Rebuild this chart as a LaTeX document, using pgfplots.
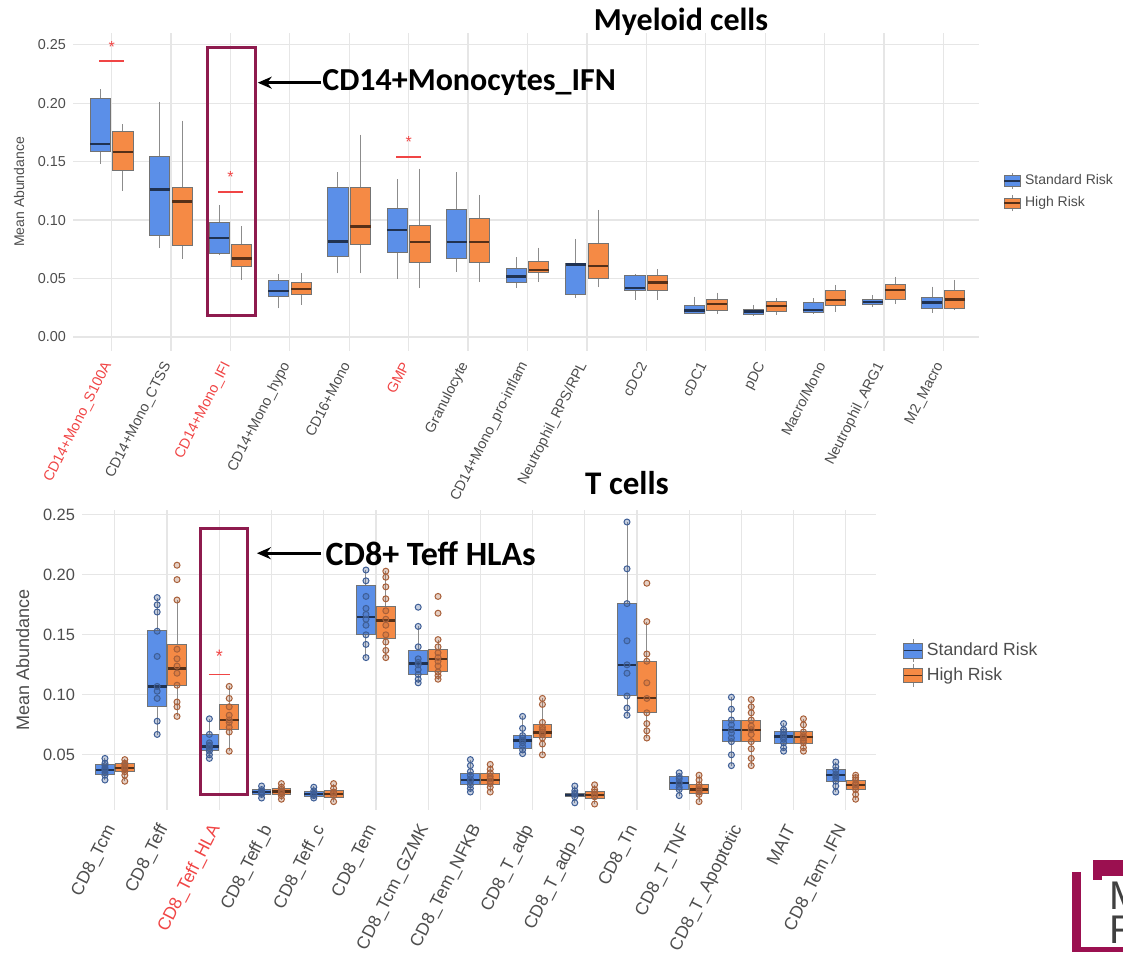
\documentclass[border=0pt]{standalone}
\usepackage{pgfplots}
\pgfplotsset{compat=1.18}
\usepgfplotslibrary{statistics}
\usetikzlibrary{arrows.meta}
\usepackage{fontspec}
\setmainfont{Liberation Sans}
\newfontfamily\carlito{Carlito}
\definecolor{sblue}{HTML}{5B8FE8}
\definecolor{horange}{HTML}{F58A45}
\definecolor{gridc}{HTML}{E6E6E6}
\definecolor{txtg}{HTML}{4D4D4D}
\definecolor{maroon}{HTML}{8E1B4E}
\definecolor{logoc}{HTML}{9B1050}
\definecolor{sigred}{HTML}{F04545}
\definecolor{bpt}{HTML}{3E5E96}
\definecolor{opt}{HTML}{A8603A}

% box: position, lower whisker, lower quartile, median, upper quartile, upper whisker, fill
\newcommand{\bx}[7]{\addplot[forget plot, boxplot prepared={draw direction=y, draw position=#1, lower whisker=#2, lower quartile=#3, median=#4, upper quartile=#5, upper whisker=#6, every median/.append style={draw=#7!35!black}}, draw=black!55, fill=#7, line width=0.5pt] coordinates {};}
% sample points: position, values, colour
\newcommand{\pts}[3]{\addplot[forget plot, only marks, mark=*, mark size=1.5pt, mark options={draw=#3, fill=#3, fill opacity=0.3, line width=0.5pt}] table[header=false, x expr=#1, y index=0, row sep=\\]{#2};}

\pgfplotsset{
  ggmin/.style={
    scale only axis, anchor=south west, clip=false,
    axis line style={draw=none}, tick style={draw=none},
    grid=major, major grid style={gridc, line width=0.6pt},
    xtick={1,...,15},
    /pgf/number format/assume math mode=true,
    yticklabel style={/pgf/number format/.cd, fixed, fixed zerofill, precision=2, /tikz/.cd, text=txtg},
    xticklabel style={rotate=63, anchor=east, text=txtg},
    ylabel style={text=txtg},
    legend cell align=left,
    boxplot/draw direction=y,
    boxplot/whisker extend=0,
    boxplot/every median/.style={line width=1.2pt},
    boxplot/every whisker/.style={draw=black!45},
  }
}

\begin{document}
\begin{tikzpicture}
\path[use as bounding box] (0pt,0pt) rectangle (561.5pt,-476pt);

% ---------------- Myeloid cells ----------------
\begin{axis}[ggmin,
  at={(36.5pt,-175.5pt)}, width=453pt, height=159pt,
  xmin=0.35, xmax=15.6, ymin=-0.012, ymax=0.260,
  ytick={0,0.05,0.1,0.15,0.2,0.25},
  yticklabel style={font=\fontsize{7.2}{8}\selectfont},
  xticklabel style={font=\fontsize{7.2}{8}\selectfont},
  xticklabel shift=3pt,
  xticklabels={\textcolor{sigred}{CD14+Mono\_S100A}, CD14+Mono\_CTSS, \textcolor{sigred}{CD14+Mono\_IFI}, CD14+Mono\_hypo, CD16+Mono, \textcolor{sigred}{GMP}, Granulocyte, CD14+Mono\_pro-inflam, Neutrophil\_RPS/RPL, cDC2, cDC1, pDC, Macro/Mono, Neutrophil\_ARG1, M2\_Macro},
  ylabel={Mean Abundance}, ylabel style={font=\fontsize{7}{8}\selectfont},
  boxplot/box extend=0.34,
  legend style={at={(1.02,0.5)}, anchor=west, draw=none, fill=none, font=\fontsize{7}{8.4}\selectfont, text=txtg, row sep=0.5pt},
]
\addlegendimage{legend image code/.code={
  \draw[black!45, line width=0.4pt] (0.14cm,-0.14cm)--(0.14cm,0.14cm);
  \draw[draw=black!55, fill=sblue, line width=0.4pt] (0cm,-0.09cm) rectangle (0.28cm,0.09cm);
  \draw[sblue!35!black, line width=0.8pt] (0cm,0cm)--(0.28cm,0cm);}}
\addlegendentry{Standard Risk}
\addlegendimage{legend image code/.code={
  \draw[black!45, line width=0.4pt] (0.14cm,-0.14cm)--(0.14cm,0.14cm);
  \draw[draw=black!55, fill=horange, line width=0.4pt] (0cm,-0.09cm) rectangle (0.28cm,0.09cm);
  \draw[horange!35!black, line width=0.8pt] (0cm,0cm)--(0.28cm,0cm);}}
\addlegendentry{High Risk}

\bx{0.81}{0.148}{0.159}{0.165}{0.204}{0.212}{sblue}
\bx{1.19}{0.125}{0.142}{0.158}{0.176}{0.182}{horange}
\bx{1.81}{0.076}{0.087}{0.126}{0.154}{0.201}{sblue}
\bx{2.19}{0.067}{0.078}{0.116}{0.128}{0.185}{horange}
\bx{2.81}{0.070}{0.071}{0.0845}{0.098}{0.113}{sblue}
\bx{3.19}{0.049}{0.060}{0.067}{0.079}{0.0945}{horange}
\bx{3.81}{0.0245}{0.0345}{0.0394}{0.048}{0.0537}{sblue}
\bx{4.19}{0.0274}{0.0365}{0.0408}{0.0465}{0.0545}{horange}
\bx{4.81}{0.0545}{0.0688}{0.0816}{0.128}{0.141}{sblue}
\bx{5.19}{0.0545}{0.079}{0.0945}{0.128}{0.173}{horange}
\bx{5.81}{0.050}{0.072}{0.0916}{0.1096}{0.135}{sblue}
\bx{6.19}{0.0417}{0.0636}{0.081}{0.0953}{0.144}{horange}
\bx{6.81}{0.056}{0.0668}{0.081}{0.109}{0.141}{sblue}
\bx{7.19}{0.047}{0.0636}{0.081}{0.101}{0.1216}{horange}
\bx{7.81}{0.0417}{0.047}{0.0517}{0.0588}{0.068}{sblue}
\bx{8.19}{0.047}{0.055}{0.0574}{0.0645}{0.0765}{horange}
\bx{8.81}{0.0337}{0.0365}{0.062}{0.063}{0.084}{sblue}
\bx{9.19}{0.0425}{0.050}{0.0608}{0.080}{0.1087}{horange}
\bx{9.81}{0.032}{0.040}{0.042}{0.053}{0.054}{sblue}
\bx{10.19}{0.0317}{0.0397}{0.0465}{0.053}{0.058}{horange}
\bx{10.81}{0.020}{0.0205}{0.0225}{0.0265}{0.0345}{sblue}
\bx{11.19}{0.020}{0.0225}{0.028}{0.032}{0.038}{horange}
\bx{11.81}{0.018}{0.0188}{0.0217}{0.0237}{0.0274}{sblue}
\bx{12.19}{0.0188}{0.0217}{0.0265}{0.030}{0.033}{horange}
\bx{12.81}{0.020}{0.0208}{0.023}{0.0294}{0.033}{sblue}
\bx{13.19}{0.0217}{0.0265}{0.0317}{0.0394}{0.0445}{horange}
\bx{13.81}{0.026}{0.028}{0.030}{0.032}{0.036}{sblue}
\bx{14.19}{0.028}{0.0317}{0.040}{0.0445}{0.0517}{horange}
\bx{14.81}{0.0208}{0.0245}{0.0294}{0.0337}{0.043}{sblue}
\bx{15.19}{0.023}{0.0245}{0.032}{0.0394}{0.049}{horange}

% significance marks
\draw[sigred, line width=0.6pt] (axis cs:0.79,0.236) -- (axis cs:1.21,0.236);
\node[sigred, font=\fontsize{8}{8}\selectfont, inner sep=0pt] at (axis cs:1,0.248) {*};
\draw[sigred, line width=0.6pt] (axis cs:2.79,0.124) -- (axis cs:3.21,0.124);
\node[sigred, font=\fontsize{8}{8}\selectfont, inner sep=0pt] at (axis cs:3,0.137) {*};
\draw[sigred, line width=0.6pt] (axis cs:5.79,0.154) -- (axis cs:6.21,0.154);
\node[sigred, font=\fontsize{8}{8}\selectfont, inner sep=0pt] at (axis cs:6,0.167) {*};

% highlight
\draw[maroon, line width=1.5pt] (axis cs:2.606,0.2474) rectangle (axis cs:3.414,0.018);
\draw[-{Stealth[length=7pt,width=6pt]}, line width=1.5pt] (axis cs:4.52,0.2175) -- (axis cs:3.46,0.2175);
\node[anchor=west, inner sep=0pt, font=\carlito\bfseries\fontsize{16}{18}\selectfont] at (axis cs:4.54,0.2175) {CD14+Monocytes\_IFN};
\end{axis}

% ---------------- T cells ----------------
\begin{axis}[ggmin,
  at={(41pt,-405pt)}, width=397pt, height=150pt,
  xmin=0.37, xmax=15.58, ymin=0.004, ymax=0.254,
  ytick={0.05,0.1,0.15,0.2,0.25},
  yticklabel style={font=\fontsize{8.2}{9}\selectfont},
  xticklabel style={font=\fontsize{8.8}{10}\selectfont},
  xticklabel shift=5pt,
  xticklabels={CD8\_Tcm, CD8\_Teff, \textcolor{sigred}{CD8\_Teff\_HLA}, CD8\_Teff\_b, CD8\_Teff\_c, CD8\_Tem, CD8\_Tcm\_GZMK, CD8\_Tem\_NFKB, CD8\_T\_adp, CD8\_T\_adp\_b, CD8\_Tn, CD8\_T\_TNF, CD8\_T\_Apoptotic, MAIT, CD8\_Tem\_IFN},
  ylabel={Mean Abundance}, ylabel style={font=\fontsize{9}{10}\selectfont},
  boxplot/box extend=0.36,
  legend style={at={(1.026,0.49)}, anchor=west, draw=none, fill=none, font=\fontsize{8.8}{10.6}\selectfont, text=txtg, row sep=0.5pt},
]
\addlegendimage{legend image code/.code={
  \draw[black!45, line width=0.4pt] (0.16cm,-0.2cm)--(0.16cm,0.2cm);
  \draw[draw=black!55, fill=sblue, line width=0.4pt] (0cm,-0.13cm) rectangle (0.32cm,0.13cm);
  \draw[sblue!35!black, line width=0.8pt] (0cm,0cm)--(0.32cm,0cm);}}
\addlegendentry{Standard Risk}
\addlegendimage{legend image code/.code={
  \draw[black!45, line width=0.4pt] (0.16cm,-0.2cm)--(0.16cm,0.2cm);
  \draw[draw=black!55, fill=horange, line width=0.4pt] (0cm,-0.13cm) rectangle (0.32cm,0.13cm);
  \draw[horange!35!black, line width=0.8pt] (0cm,0cm)--(0.32cm,0cm);}}
\addlegendentry{High Risk}

\bx{0.81}{0.029}{0.034}{0.0375}{0.0417}{0.047}{sblue}
\bx{1.19}{0.028}{0.036}{0.039}{0.0425}{0.0464}{horange}
\bx{1.81}{0.0667}{0.090}{0.107}{0.1533}{0.1806}{sblue}
\bx{2.19}{0.082}{0.108}{0.122}{0.1417}{0.179}{horange}
\bx{2.81}{0.047}{0.0536}{0.057}{0.0672}{0.080}{sblue}
\bx{3.19}{0.0528}{0.0714}{0.079}{0.0917}{0.107}{horange}
\bx{3.81}{0.0139}{0.0167}{0.019}{0.021}{0.0236}{sblue}
\bx{4.19}{0.0125}{0.0167}{0.0194}{0.0222}{0.0264}{horange}
\bx{4.81}{0.0139}{0.0153}{0.0175}{0.0194}{0.0236}{sblue}
\bx{5.19}{0.011}{0.0147}{0.0175}{0.0203}{0.026}{horange}
\bx{5.81}{0.1306}{0.150}{0.165}{0.191}{0.204}{sblue}
\bx{6.19}{0.1306}{0.147}{0.162}{0.174}{0.203}{horange}
\bx{6.81}{0.110}{0.117}{0.126}{0.137}{0.157}{sblue}
\bx{7.19}{0.1125}{0.1194}{0.1297}{0.138}{0.146}{horange}
\bx{7.81}{0.0194}{0.025}{0.0292}{0.0347}{0.046}{sblue}
\bx{8.19}{0.0194}{0.025}{0.0292}{0.0347}{0.0417}{horange}
\bx{8.81}{0.0514}{0.0556}{0.062}{0.0658}{0.082}{sblue}
\bx{9.19}{0.050}{0.0647}{0.0686}{0.075}{0.0972}{horange}
\bx{9.81}{0.010}{0.0153}{0.0167}{0.0181}{0.0236}{sblue}
\bx{10.19}{0.0092}{0.0139}{0.0167}{0.0194}{0.025}{horange}
\bx{10.81}{0.0825}{0.0992}{0.125}{0.1758}{0.244}{sblue}
\bx{11.19}{0.064}{0.0853}{0.0972}{0.1278}{0.161}{horange}
\bx{11.81}{0.0158}{0.021}{0.0264}{0.032}{0.0347}{sblue}
\bx{12.19}{0.011}{0.018}{0.021}{0.025}{0.0333}{horange}
\bx{12.81}{0.041}{0.0611}{0.0708}{0.079}{0.098}{sblue}
\bx{13.19}{0.041}{0.0611}{0.0708}{0.079}{0.0958}{horange}
\bx{13.81}{0.0528}{0.0597}{0.0653}{0.0694}{0.0764}{sblue}
\bx{14.19}{0.0528}{0.0597}{0.0647}{0.0694}{0.0797}{horange}
\bx{14.81}{0.0194}{0.0278}{0.0333}{0.0375}{0.0436}{sblue}
\bx{15.19}{0.0125}{0.021}{0.025}{0.029}{0.0333}{horange}

% sample points
\pts{0.81}{0.047\\0.043\\0.041\\0.039\\0.038\\0.037\\0.035\\0.033\\0.029\\}{bpt}
\pts{1.19}{0.046\\0.043\\0.042\\0.040\\0.039\\0.038\\0.036\\0.033\\0.028\\}{opt}
\pts{1.81}{0.181\\0.175\\0.169\\0.153\\0.132\\0.107\\0.103\\0.097\\0.078\\0.067\\}{bpt}
\pts{2.19}{0.208\\0.196\\0.179\\0.138\\0.130\\0.124\\0.118\\0.108\\0.094\\0.090\\0.082\\}{opt}
\pts{2.81}{0.080\\0.067\\0.060\\0.058\\0.057\\0.055\\0.053\\0.050\\0.047\\}{bpt}
\pts{3.19}{0.107\\0.097\\0.090\\0.083\\0.079\\0.077\\0.073\\0.069\\0.053\\}{opt}
\pts{3.81}{0.024\\0.021\\0.019\\0.018\\0.017\\0.014\\}{bpt}
\pts{4.19}{0.026\\0.023\\0.021\\0.019\\0.018\\0.016\\0.013\\}{opt}
\pts{4.81}{0.023\\0.020\\0.018\\0.017\\0.016\\0.014\\}{bpt}
\pts{5.19}{0.026\\0.022\\0.019\\0.018\\0.016\\0.011\\}{opt}
\pts{5.81}{0.204\\0.195\\0.182\\0.172\\0.167\\0.163\\0.158\\0.150\\0.142\\0.131\\}{bpt}
\pts{6.19}{0.203\\0.198\\0.190\\0.180\\0.170\\0.163\\0.158\\0.150\\0.144\\0.137\\0.131\\}{opt}
\pts{6.81}{0.173\\0.157\\0.140\\0.130\\0.127\\0.125\\0.121\\0.117\\0.113\\0.110\\}{bpt}
\pts{7.19}{0.182\\0.168\\0.146\\0.140\\0.135\\0.131\\0.128\\0.124\\0.119\\0.116\\0.113\\}{opt}
\pts{7.81}{0.046\\0.041\\0.036\\0.033\\0.030\\0.028\\0.025\\0.022\\0.019\\}{bpt}
\pts{8.19}{0.042\\0.038\\0.035\\0.032\\0.030\\0.028\\0.026\\0.023\\0.019\\}{opt}
\pts{8.81}{0.082\\0.072\\0.066\\0.064\\0.062\\0.060\\0.057\\0.054\\0.051\\}{bpt}
\pts{9.19}{0.097\\0.092\\0.077\\0.073\\0.071\\0.069\\0.067\\0.064\\0.059\\0.050\\}{opt}
\pts{9.81}{0.024\\0.020\\0.018\\0.017\\0.015\\0.010\\}{bpt}
\pts{10.19}{0.025\\0.021\\0.019\\0.017\\0.015\\0.009\\}{opt}
\pts{10.81}{0.244\\0.205\\0.176\\0.145\\0.125\\0.118\\0.099\\0.089\\0.083\\}{bpt}
\pts{11.19}{0.193\\0.161\\0.134\\0.128\\0.110\\0.097\\0.085\\0.076\\0.070\\0.064\\}{opt}
\pts{11.81}{0.035\\0.032\\0.030\\0.027\\0.026\\0.023\\0.021\\0.016\\}{bpt}
\pts{12.19}{0.033\\0.029\\0.025\\0.023\\0.021\\0.019\\0.017\\0.011\\}{opt}
\pts{12.81}{0.098\\0.088\\0.079\\0.075\\0.071\\0.068\\0.064\\0.061\\0.050\\0.041\\}{bpt}
\pts{13.19}{0.096\\0.090\\0.085\\0.079\\0.074\\0.071\\0.067\\0.061\\0.055\\0.047\\0.041\\}{opt}
\pts{13.81}{0.076\\0.071\\0.069\\0.067\\0.065\\0.063\\0.060\\0.056\\0.053\\}{bpt}
\pts{14.19}{0.080\\0.075\\0.069\\0.066\\0.064\\0.062\\0.060\\0.056\\0.053\\}{opt}
\pts{14.81}{0.044\\0.040\\0.037\\0.034\\0.033\\0.031\\0.028\\0.024\\0.019\\}{bpt}
\pts{15.19}{0.033\\0.031\\0.029\\0.026\\0.025\\0.023\\0.021\\0.017\\0.013\\}{opt}

% significance
\draw[sigred, line width=0.6pt] (axis cs:2.80,0.117) -- (axis cs:3.21,0.117);
\node[sigred, font=\fontsize{9}{9}\selectfont, inner sep=0pt] at (axis cs:3,0.132) {*};

% highlight
\draw[maroon, line width=1.5pt] (axis cs:2.644,0.239) rectangle (axis cs:3.531,0.0167);
\draw[-{Stealth[length=7pt,width=6pt]}, line width=1.5pt] (axis cs:4.95,0.218) -- (axis cs:3.72,0.218);
\node[anchor=west, inner sep=0pt, font=\carlito\bfseries\fontsize{17}{19}\selectfont] at (axis cs:5.03,0.218) {CD8+ Teff HLAs};
\end{axis}

% titles
\node[font=\carlito\bfseries\fontsize{16}{18}\selectfont] at (340.5pt,-11pt) {Myeloid cells};
\node[font=\carlito\bfseries\fontsize{16.5}{18}\selectfont] at (313.5pt,-241.5pt) {T cells};

% logo fragment
\fill[logoc] (536pt,-436pt) rectangle (540.5pt,-476pt);
\fill[logoc] (536pt,-473.5pt) rectangle (561.5pt,-476pt);
\fill[logoc] (546.5pt,-430pt) rectangle (561.5pt,-438pt);
\fill[logoc] (546.5pt,-430pt) rectangle (551pt,-440pt);
\node[anchor=west, inner sep=0pt, text=black!75, font=\fontsize{20}{20}\selectfont] at (554.5pt,-448pt) {M};
\node[anchor=west, inner sep=0pt, text=black!75, font=\fontsize{20}{20}\selectfont] at (554.5pt,-465pt) {R};
\end{tikzpicture}
\end{document}
